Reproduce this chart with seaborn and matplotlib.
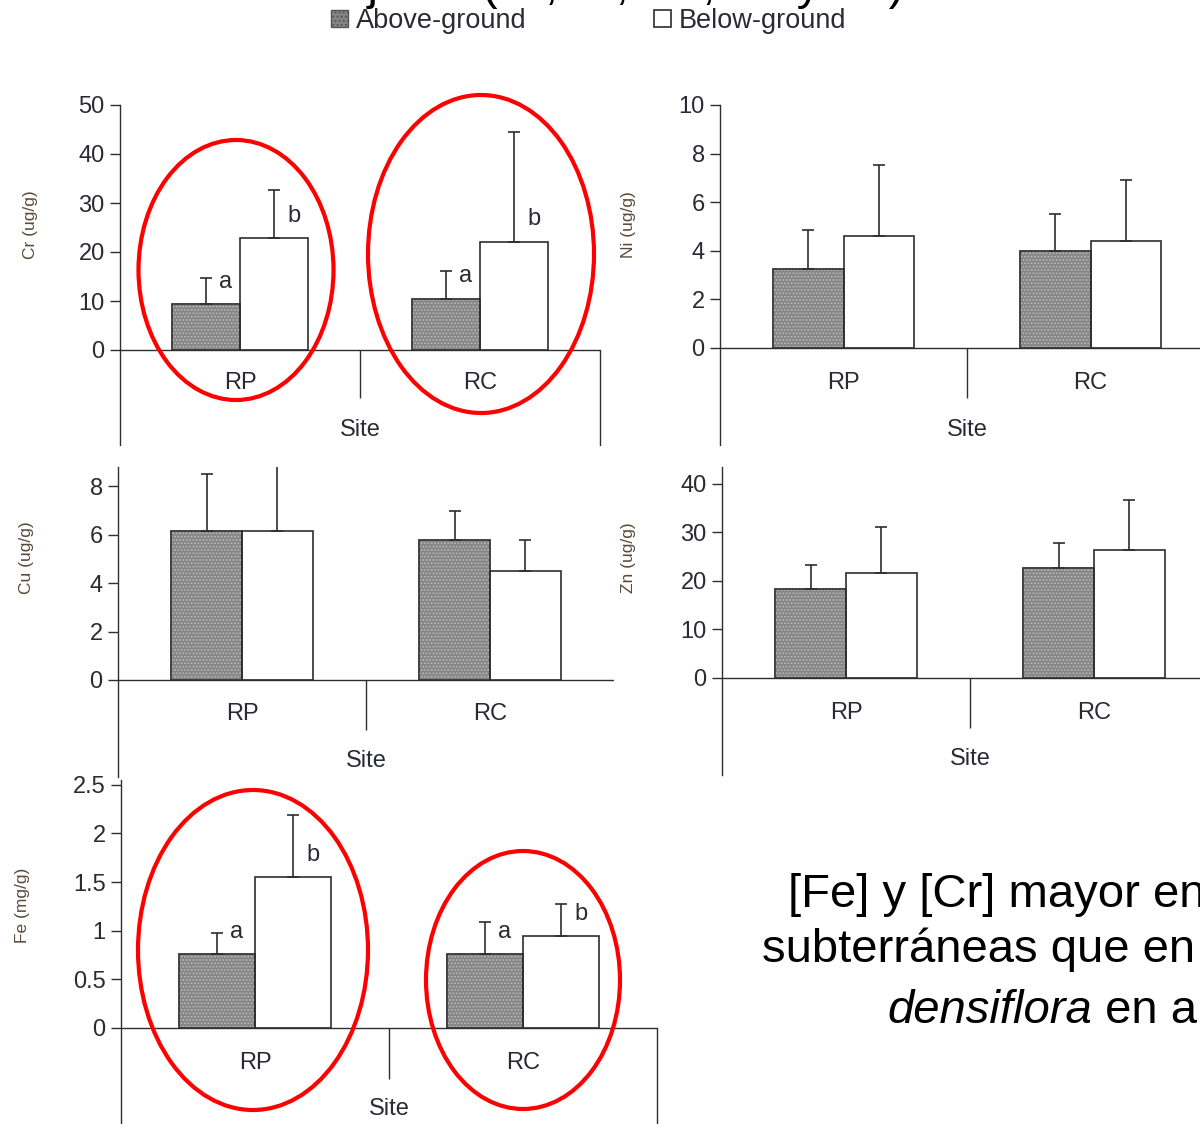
import numpy as np
import pandas as pd
import matplotlib
matplotlib.use("Agg")
import matplotlib.pyplot as plt
import seaborn as sns
from matplotlib.patches import Ellipse, Patch, Rectangle
from matplotlib.ticker import FuncFormatter

# ---------------- data ----------------
sites = ["RP", "RC"]
parts = ["Above-ground", "Below-ground"]

cr_above = [9.3, 10.5]
cr_above_se = [5.3, 5.6]
cr_below = [22.9, 22.1]
cr_below_se = [9.8, 22.3]

ni_above = [3.25, 4.0]
ni_above_se = [1.6, 1.5]
ni_below = [4.6, 4.4]
ni_below_se = [2.95, 2.5]

cu_above = [6.15, 5.8]
cu_above_se = [2.35, 1.2]
cu_below = [6.15, 4.5]
cu_below_se = [3.0, 1.3]

zn_above = [18.3, 22.6]
zn_above_se = [4.9, 5.2]
zn_below = [21.7, 26.3]
zn_below_se = [9.5, 10.3]

fe_above = [0.76, 0.76]
fe_above_se = [0.22, 0.33]
fe_below = [1.55, 0.945]
fe_below_se = [0.64, 0.335]

cr_letters = (["a", "a"], ["b", "b"])
fe_letters = (["a", "a"], ["b", "b"])

cr_ticks = [0, 10, 20, 30, 40, 50]
ni_ticks = [0, 2, 4, 6, 8, 10]
cu_ticks = [0, 2, 4, 6, 8]
zn_ticks = [0, 10, 20, 30, 40]
fe_ticks = [0, 0.5, 1, 1.5, 2, 2.5]

# ---------------- style ----------------
sns.set_style("white")
plt.rcParams["font.family"] = ["Liberation Sans", "DejaVu Sans"]
plt.rcParams["hatch.linewidth"] = 0.9

W, H = 1200, 1124
GRAY = "#858585"
DOTS = "#b8b8b8"
EDGE = "#2e2e2e"
TXT = "#2a2a35"
YLAB = "#5a4a3a"
BIG = 34

fig = plt.figure(figsize=(W / 100, H / 100), dpi=100)


def draw_panel(above, above_se, below, below_se, ticks, ylabel, geo, letters=None):
    left, right, top, zero, bottom = geo["box"]
    ymax = geo["ymax"]
    ymin = -ymax * (bottom - zero) / (zero - top)
    ax = fig.add_axes([left / W, 1 - bottom / H, (right - left) / W, (bottom - top) / H])
    ax.set_facecolor("none")

    def val(py):
        return (zero - py) / (zero - top) * ymax

    df = pd.DataFrame({
        "site": sites * 2,
        "part": [parts[0]] * len(sites) + [parts[1]] * len(sites),
        "value": list(above) + list(below),
    })
    sns.barplot(data=df, x="site", y="value", hue="part", order=sites,
                hue_order=parts, palette={parts[0]: GRAY, parts[1]: "white"},
                saturation=1, width=0.57, edgecolor=EDGE, linewidth=1.2,
                errorbar=None, legend=False, ax=ax)

    # stippled fill for the above-ground bars, with a dark outline on top
    for bar in ax.containers[0]:
        bar.set_hatch(".....")
        bar.set_edgecolor(DOTS)
        ax.add_patch(Rectangle(bar.get_xy(), bar.get_width(), bar.get_height(),
                               fill=False, ec=EDGE, lw=1.2, zorder=bar.get_zorder() + 0.1))

    # one-sided error bars
    for cont, se in zip(ax.containers, [above_se, below_se]):
        xs = [b.get_x() + b.get_width() / 2 for b in cont]
        ys = [b.get_height() for b in cont]
        ax.errorbar(xs, ys, yerr=[np.zeros(len(se)), se], fmt="none",
                    ecolor=EDGE, elinewidth=1.2, capsize=4, capthick=1.2)

    # significance letters
    if letters is not None:
        for cont, labs in zip(ax.containers, letters):
            for b, lab in zip(cont, labs):
                ax.annotate(lab, xy=(b.get_x() + b.get_width() / 2, b.get_height()),
                            xytext=(14, 16), textcoords="offset points",
                            ha="center", va="center", fontsize=17, color=TXT)

    ax.set_xlim(-0.5, len(sites) - 0.5)
    ax.set_ylim(ymin, ymax)
    ax.set_yticks(ticks)
    ax.yaxis.set_major_formatter(FuncFormatter(lambda v, p: f"{v:g}"))
    ax.tick_params(axis="y", direction="out", length=7, width=1.0,
                   color=EDGE, labelsize=17, labelcolor=TXT, pad=4, left=True)
    ax.tick_params(axis="x", bottom=False, labelbottom=False)
    ax.set_xlabel("")

    for s in ["top", "bottom"]:
        ax.spines[s].set_visible(False)
    ax.spines["left"].set_color(EDGE)
    ax.spines["left"].set_linewidth(1.0)
    if geo["right_spine"]:
        ax.spines["right"].set_visible(True)
        ax.spines["right"].set_color(EDGE)
        ax.spines["right"].set_linewidth(1.0)
        ax.spines["right"].set_bounds(ymin, 0)
    else:
        ax.spines["right"].set_visible(False)

    ax.axhline(0, color=EDGE, lw=1.0, zorder=5)
    ax.vlines(0.5, val(geo["sep"]), 0, color=EDGE, lw=1.0)

    for i, s in enumerate(sites):
        ax.text(i, val(geo["cat"]), s, ha="center", va="center", fontsize=17, color=TXT)
    ax.text(0.5, val(geo["site"]), "Site", ha="center", va="center", fontsize=17, color=TXT)

    lx, ly = geo["ylab"]
    ax.set_ylabel(ylabel, fontsize=12.5, color=YLAB, va="center")
    ax.yaxis.set_label_coords((lx - left) / (right - left), (bottom - ly) / (bottom - top))
    return ax


panels = [
    (cr_above, cr_above_se, cr_below, cr_below_se, cr_ticks, "Cr (ug/g)",
     dict(box=(120, 600, 105, 350, 445), ymax=50, sep=398, cat=383, site=430,
          right_spine=True, ylab=(30, 225)), cr_letters),
    (ni_above, ni_above_se, ni_below, ni_below_se, ni_ticks, "Ni (ug/g)",
     dict(box=(720, 1214, 105, 348, 445), ymax=10, sep=398, cat=383, site=430,
          right_spine=False, ylab=(628, 225)), None),
    (cu_above, cu_above_se, cu_below, cu_below_se, cu_ticks, "Cu (ug/g)",
     dict(box=(118, 614, 467, 680, 777), ymax=8.8, sep=730, cat=714, site=761,
          right_spine=False, ylab=(26, 558)), None),
    (zn_above, zn_above_se, zn_below, zn_below_se, zn_ticks, "Zn (ug/g)",
     dict(box=(722, 1218, 467, 678, 775), ymax=43.5, sep=728, cat=713, site=759,
          right_spine=False, ylab=(628, 558)), None),
    (fe_above, fe_above_se, fe_below, fe_below_se, fe_ticks, "Fe (mg/g)",
     dict(box=(121, 657, 780, 1028, 1130), ymax=2.55, sep=1079, cat=1063, site=1109,
          right_spine=True, ylab=(23, 905)), fe_letters),
]

for a, ase, b, bse, ticks, lab, geo, letters in panels:
    draw_panel(a, ase, b, bse, ticks, lab, geo, letters)

# legend across the top
handles = [Patch(facecolor=GRAY, edgecolor="#555555", hatch="....", linewidth=1.0),
           Patch(facecolor="white", edgecolor=EDGE, linewidth=1.2)]
fig.legend(handles=handles, labels=parts, loc="upper center",
           bbox_to_anchor=(589 / W, 1 - 8 / H), ncol=2, frameon=False,
           fontsize=19.5, labelcolor=TXT, handlelength=0.62, handleheight=0.62,
           handletextpad=0.3, columnspacing=4.7, borderpad=0, borderaxespad=0)

# highlight ellipses around the Cr and Fe groups
for cx, cy, w, h in [(236, 270, 195, 260), (481, 254, 226, 318),
                     (253, 950, 230, 320), (523, 980, 194, 258)]:
    fig.add_artist(Ellipse((cx / 100, (H - cy) / 100), w / 100, h / 100,
                           transform=fig.dpi_scale_trans, fill=False,
                           ec="#ff0000", lw=3, zorder=20))

# slide heading, running off the top edge
fig.text(478 / W, 1 + 1 / H, "Contenido de metales en tejidos ", fontsize=BIG,
         ha="right", va="baseline", color="black")
fig.text(482 / W, 1 + 1 / H, "(Cr, Ni, Cu, Zn y Fe) en P. densiflora", fontsize=BIG,
         ha="left", va="baseline", color="black")

# comment text at lower right
fig.text(788 / W, 1 - 907 / H, "[Fe] y [Cr] mayor en las partes", fontsize=BIG,
         ha="left", va="baseline", color="black")
fig.text(762 / W, 1 - 962 / H, "subterráneas que en las aéreas de P.", fontsize=BIG,
         ha="left", va="baseline", color="black")
it = fig.text(887 / W, 1 - 1023 / H, "densiflora", fontsize=BIG, style="italic",
              ha="left", va="baseline", color="black")
fig.canvas.draw()
bb = it.get_window_extent()
fig.text(bb.x1 / W, 1 - 1023 / H, " en ambos sitios", fontsize=BIG,
         ha="left", va="baseline", color="black")

fig.savefig("out.png", dpi=100, facecolor="white")
